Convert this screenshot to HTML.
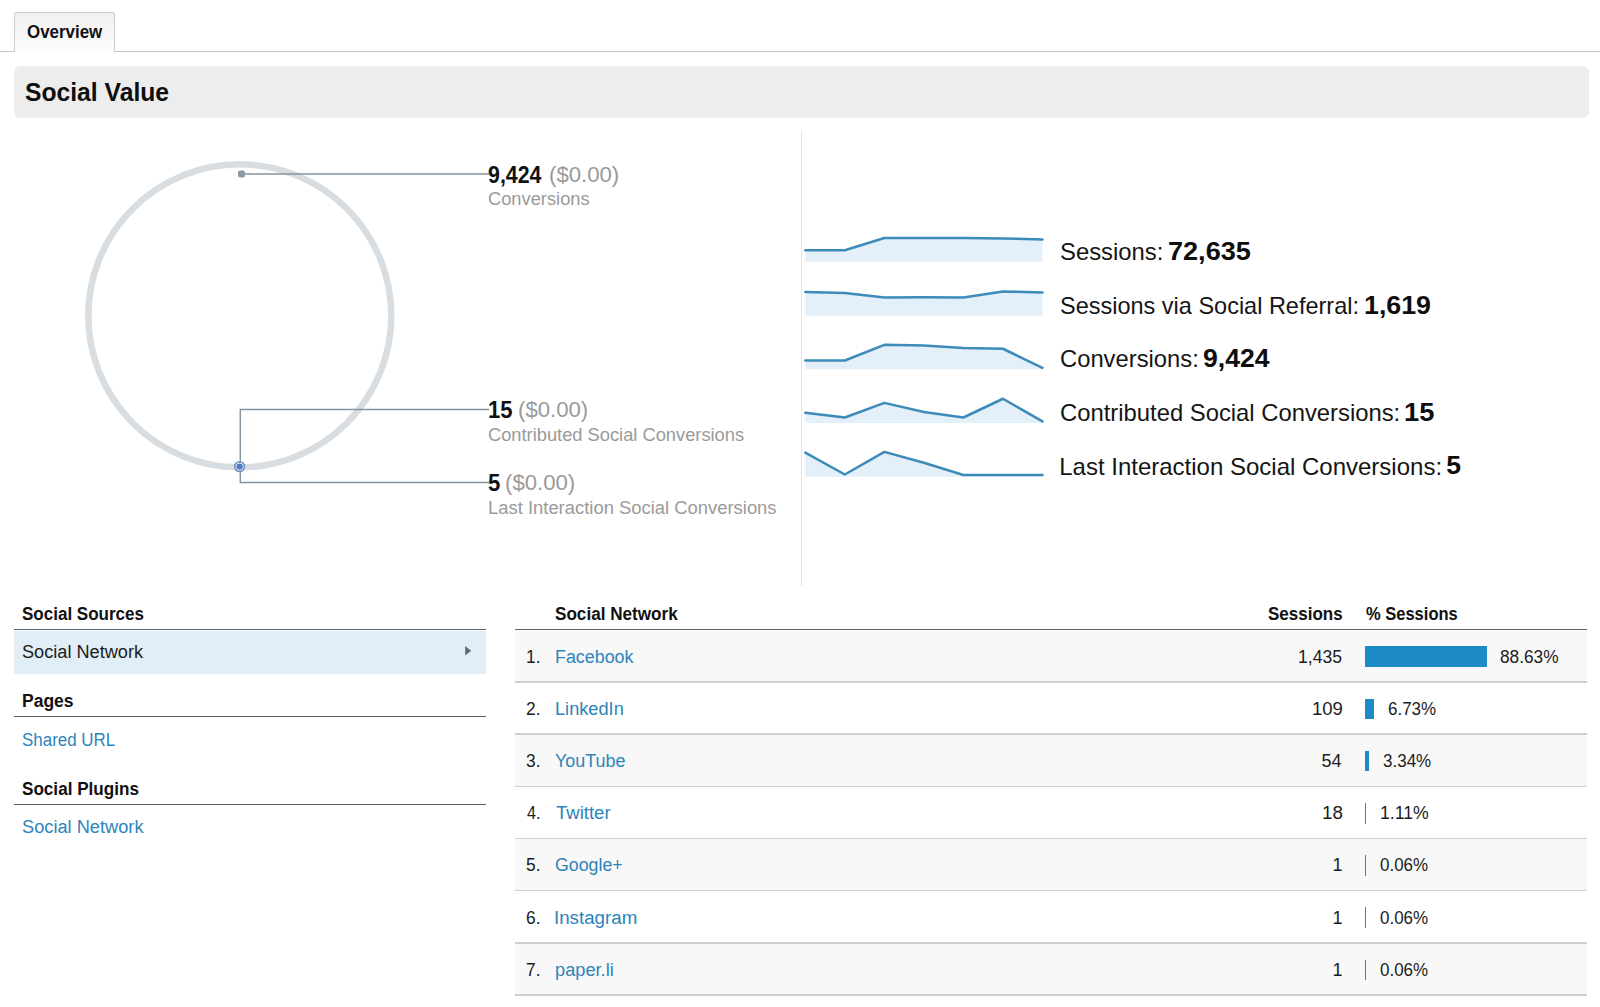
<!DOCTYPE html>
<html><head><meta charset="utf-8"><style>html,body{margin:0;padding:0;background:#fff;width:1600px;height:1007px;overflow:hidden;position:relative;font-family:"Liberation Sans",sans-serif}.t{position:absolute;white-space:nowrap}</style></head><body>
<div style="position:absolute;left:0;top:50.6px;width:1600px;height:1.2px;background:#c6c6c6"></div>
<div style="position:absolute;left:14.2px;top:11.6px;width:101.2px;height:40px;box-sizing:border-box;border:1.2px solid #cdcdcd;border-bottom:none;border-radius:3px 3px 0 0;background:linear-gradient(#f0f0f0,#fdfdfd)"></div>
<div style="position:absolute;left:14.3px;top:66.4px;width:1575px;height:51.9px;background:#ededed;border-radius:6px"></div>
<div style="position:absolute;left:801px;top:131px;width:1px;height:455px;background:#e4e4e4"></div>
<svg style="position:absolute;left:0;top:0" width="800" height="600">
<circle cx="239.8" cy="315.8" r="151.5" fill="none" stroke="#d8dde1" stroke-width="6.5"/>
<path d="M241.5 174 H489" stroke="#8494a0" stroke-width="1.5" fill="none"/>
<rect x="238" y="170.5" width="7" height="7" rx="2.2" fill="#8b9aa6"/>
<path d="M489 409.4 H240.3 V482.6 H489" stroke="#8494a0" stroke-width="1.5" fill="none"/>
<circle cx="239.6" cy="466.6" r="5.7" fill="#7893c0"/>
<circle cx="239.6" cy="466.6" r="3.9" fill="#fff"/>
<circle cx="239.6" cy="466.6" r="3.2" fill="#4b7cc3"/>
</svg>
<svg style="position:absolute;left:0;top:0" width="1600" height="600"><polygon points="805.30,261.9 805.30,250.20 844.83,250.20 884.36,238.00 923.89,238.00 963.42,238.00 1002.95,238.50 1042.48,239.40 1042.48,261.9" fill="#e3eff9"/><polyline points="805.30,250.20 844.83,250.20 884.36,238.00 923.89,238.00 963.42,238.00 1002.95,238.50 1042.48,239.40" fill="none" stroke="#3d8bb9" stroke-width="2.5" stroke-linejoin="round" stroke-linecap="round"/><polygon points="805.30,315.7 805.30,292.00 844.83,293.00 884.36,297.60 923.89,297.30 963.42,297.60 1002.95,291.40 1042.48,292.50 1042.48,315.7" fill="#e3eff9"/><polyline points="805.30,292.00 844.83,293.00 884.36,297.60 923.89,297.30 963.42,297.60 1002.95,291.40 1042.48,292.50" fill="none" stroke="#3d8bb9" stroke-width="2.5" stroke-linejoin="round" stroke-linecap="round"/><polygon points="805.30,369.3 805.30,360.50 844.83,360.50 884.36,344.80 923.89,345.60 963.42,348.00 1002.95,348.75 1042.48,367.80 1042.48,369.3" fill="#e3eff9"/><polyline points="805.30,360.50 844.83,360.50 884.36,344.80 923.89,345.60 963.42,348.00 1002.95,348.75 1042.48,367.80" fill="none" stroke="#3d8bb9" stroke-width="2.5" stroke-linejoin="round" stroke-linecap="round"/><polygon points="805.30,423.0 805.30,412.80 844.83,417.50 884.36,402.90 923.89,412.00 963.42,417.50 1002.95,398.75 1042.48,421.40 1042.48,423.0" fill="#e3eff9"/><polyline points="805.30,412.80 844.83,417.50 884.36,402.90 923.89,412.00 963.42,417.50 1002.95,398.75 1042.48,421.40" fill="none" stroke="#3d8bb9" stroke-width="2.5" stroke-linejoin="round" stroke-linecap="round"/><polygon points="805.30,476.7 805.30,452.70 844.83,474.50 884.36,451.90 923.89,462.80 963.42,475.00 1002.95,475.00 1042.48,475.00 1042.48,476.7" fill="#e3eff9"/><polyline points="805.30,452.70 844.83,474.50 884.36,451.90 923.89,462.80 963.42,475.00 1002.95,475.00 1042.48,475.00" fill="none" stroke="#3d8bb9" stroke-width="2.5" stroke-linejoin="round" stroke-linecap="round"/></svg>
<div style="position:absolute;left:14.2px;top:629px;width:472px;height:1.25px;background:#5b6065"></div>
<div style="position:absolute;left:14.2px;top:630.5px;width:472px;height:43px;background:#e1eef7"></div>
<svg style="position:absolute;left:460px;top:640px" width="16" height="20"><path d="M5.2 6 L11.1 10.8 L5.2 15.6 Z" fill="#646b70"/></svg>
<div style="position:absolute;left:14.2px;top:716px;width:472px;height:1.25px;background:#5b6065"></div>
<div style="position:absolute;left:14.2px;top:803.8px;width:472px;height:1.25px;background:#5b6065"></div>
<div style="position:absolute;left:514.8px;top:629px;width:1072.2px;height:1.25px;background:#5b6065"></div>
<div style="position:absolute;left:514.8px;top:630.50px;width:1072.2px;height:50.70px;background:#f8f8f8"></div>
<div style="position:absolute;left:514.8px;top:681.25px;width:1072.2px;height:1.4px;background:#cfcfcf"></div>
<div style="position:absolute;left:514.8px;top:682.70px;width:1072.2px;height:50.70px;background:#ffffff"></div>
<div style="position:absolute;left:514.8px;top:733.45px;width:1072.2px;height:1.4px;background:#cfcfcf"></div>
<div style="position:absolute;left:514.8px;top:734.90px;width:1072.2px;height:50.70px;background:#f8f8f8"></div>
<div style="position:absolute;left:514.8px;top:785.65px;width:1072.2px;height:1.4px;background:#cfcfcf"></div>
<div style="position:absolute;left:514.8px;top:787.10px;width:1072.2px;height:50.70px;background:#ffffff"></div>
<div style="position:absolute;left:514.8px;top:837.85px;width:1072.2px;height:1.4px;background:#cfcfcf"></div>
<div style="position:absolute;left:514.8px;top:839.30px;width:1072.2px;height:50.70px;background:#f8f8f8"></div>
<div style="position:absolute;left:514.8px;top:890.05px;width:1072.2px;height:1.4px;background:#cfcfcf"></div>
<div style="position:absolute;left:514.8px;top:891.50px;width:1072.2px;height:50.70px;background:#ffffff"></div>
<div style="position:absolute;left:514.8px;top:942.25px;width:1072.2px;height:1.4px;background:#cfcfcf"></div>
<div style="position:absolute;left:514.8px;top:943.70px;width:1072.2px;height:50.70px;background:#f8f8f8"></div>
<div style="position:absolute;left:514.8px;top:994.45px;width:1072.2px;height:1.4px;background:#cfcfcf"></div>
<div style="position:absolute;left:1364.6px;top:646.40px;width:122.04px;height:20.6px;background:#1e8bc6"></div>
<div style="position:absolute;left:1364.6px;top:698.60px;width:9.27px;height:20.6px;background:#1e8bc6"></div>
<div style="position:absolute;left:1364.6px;top:750.80px;width:4.60px;height:20.6px;background:#1e8bc6"></div>
<div style="position:absolute;left:1364.6px;top:803.00px;width:1.60px;height:20.6px;background:#1e8bc6"></div>
<div style="position:absolute;left:1364.6px;top:855.20px;width:1.60px;height:20.6px;background:#1e8bc6"></div>
<div style="position:absolute;left:1364.6px;top:907.40px;width:1.60px;height:20.6px;background:#1e8bc6"></div>
<div style="position:absolute;left:1364.6px;top:959.60px;width:1.60px;height:20.6px;background:#1e8bc6"></div>
<div class="t" style="font-size:17.5px;font-weight:bold;color:#111111;line-height:17.5px;left:26.63px;top:23.79px;transform:scaleX(0.9662);transform-origin:0 0;">Overview</div>
<div class="t" style="font-size:26px;font-weight:bold;color:#0e0e0e;line-height:26px;left:25.05px;top:79.09px;transform:scaleX(0.9493);transform-origin:0 0;">Social Value</div>
<div class="t" style="font-size:23px;font-weight:bold;color:#111111;line-height:23px;left:488.07px;top:163.53px;transform:scaleX(0.9298);transform-origin:0 0;">9,424</div>
<div class="t" style="font-size:22.5px;font-weight:normal;color:#9a9a9a;line-height:22.5px;left:549.01px;top:163.95px;transform:scaleX(0.9855);transform-origin:0 0;">($0.00)</div>
<div class="t" style="font-size:18.3px;font-weight:normal;color:#9a9a9a;line-height:18.3px;left:488.00px;top:190.01px;">Conversions</div>
<div class="t" style="font-size:23px;font-weight:bold;color:#111111;line-height:23px;left:488.04px;top:398.53px;transform:scaleX(0.9583);transform-origin:0 0;">15</div>
<div class="t" style="font-size:22.5px;font-weight:normal;color:#9a9a9a;line-height:22.5px;left:518.01px;top:398.95px;transform:scaleX(0.9855);transform-origin:0 0;">($0.00)</div>
<div class="t" style="font-size:18.3px;font-weight:normal;color:#9a9a9a;line-height:18.3px;left:488.00px;top:426.01px;">Contributed Social Conversions</div>
<div class="t" style="font-size:23px;font-weight:bold;color:#111111;line-height:23px;left:488.04px;top:471.53px;transform:scaleX(0.9636);transform-origin:0 0;">5</div>
<div class="t" style="font-size:22.5px;font-weight:normal;color:#9a9a9a;line-height:22.5px;left:505.41px;top:471.95px;transform:scaleX(0.9855);transform-origin:0 0;">($0.00)</div>
<div class="t" style="font-size:18.3px;font-weight:normal;color:#9a9a9a;line-height:18.3px;left:487.99px;top:499.01px;transform:scaleX(1.0070);transform-origin:0 0;">Last Interaction Social Conversions</div>
<div class="t" style="font-size:24px;font-weight:normal;color:#151515;line-height:24px;left:1060.21px;top:240.18px;transform:scaleX(0.9931);transform-origin:0 0;">Sessions:</div>
<div class="t" style="font-size:26.5px;font-weight:bold;color:#0e0e0e;line-height:26.5px;left:1167.78px;top:238.07px;transform:scaleX(1.0215);transform-origin:0 0;">72,635</div>
<div class="t" style="font-size:24px;font-weight:normal;color:#151515;line-height:24px;left:1060.22px;top:293.78px;transform:scaleX(0.9788);transform-origin:0 0;">Sessions via Social Referral:</div>
<div class="t" style="font-size:26.5px;font-weight:bold;color:#0e0e0e;line-height:26.5px;left:1363.78px;top:291.67px;transform:scaleX(1.0095);transform-origin:0 0;">1,619</div>
<div class="t" style="font-size:24px;font-weight:normal;color:#151515;line-height:24px;left:1060.21px;top:347.38px;transform:scaleX(0.9905);transform-origin:0 0;">Conversions:</div>
<div class="t" style="font-size:26.5px;font-weight:bold;color:#0e0e0e;line-height:26.5px;left:1203.20px;top:345.27px;transform:scaleX(1.0031);transform-origin:0 0;">9,424</div>
<div class="t" style="font-size:24px;font-weight:normal;color:#151515;line-height:24px;left:1060.21px;top:400.98px;transform:scaleX(0.9924);transform-origin:0 0;">Contributed Social Conversions:</div>
<div class="t" style="font-size:26.5px;font-weight:bold;color:#0e0e0e;line-height:26.5px;left:1404.44px;top:398.87px;transform:scaleX(1.0296);transform-origin:0 0;">15</div>
<div class="t" style="font-size:24px;font-weight:normal;color:#151515;line-height:24px;left:1059.20px;top:454.58px;">Last Interaction Social Conversions:</div>
<div class="t" style="font-size:26.5px;font-weight:bold;color:#0e0e0e;line-height:26.5px;left:1446.20px;top:452.47px;">5</div>
<div class="t" style="font-size:18px;font-weight:bold;color:#111111;line-height:18px;left:22.06px;top:604.76px;transform:scaleX(0.9449);transform-origin:0 0;">Social Sources</div>
<div class="t" style="font-size:18px;font-weight:normal;color:#1c1c1c;line-height:18px;left:21.99px;top:643.06px;transform:scaleX(1.0084);transform-origin:0 0;">Social Network</div>
<div class="t" style="font-size:18px;font-weight:bold;color:#111111;line-height:18px;left:22.03px;top:692.06px;transform:scaleX(0.9725);transform-origin:0 0;">Pages</div>
<div class="t" style="font-size:18px;font-weight:normal;color:#2d84ba;line-height:18px;left:22.16px;top:730.56px;transform:scaleX(0.9418);transform-origin:0 0;">Shared URL</div>
<div class="t" style="font-size:18px;font-weight:bold;color:#111111;line-height:18px;left:22.05px;top:779.56px;transform:scaleX(0.9504);transform-origin:0 0;">Social Plugins</div>
<div class="t" style="font-size:18px;font-weight:normal;color:#2d84ba;line-height:18px;left:21.99px;top:817.76px;transform:scaleX(1.0126);transform-origin:0 0;">Social Network</div>
<div class="t" style="font-size:18px;font-weight:bold;color:#111111;line-height:18px;left:555.35px;top:604.76px;transform:scaleX(0.9508);transform-origin:0 0;">Social Network</div>
<div class="t" style="font-size:18px;font-weight:bold;color:#111111;line-height:18px;left:1267.86px;top:604.76px;transform:scaleX(0.9442);transform-origin:0 0;">Sessions</div>
<div class="t" style="font-size:18px;font-weight:bold;color:#111111;line-height:18px;left:1365.50px;top:604.76px;transform:scaleX(0.9167);transform-origin:0 0;">% Sessions</div>
<div class="t" style="font-size:18px;font-weight:normal;color:#1c1c1c;line-height:18px;left:526.04px;top:647.56px;transform:scaleX(0.9615);transform-origin:0 0;">1.</div>
<div class="t" style="font-size:18px;font-weight:normal;color:#2d84ba;line-height:18px;left:555.31px;top:647.56px;transform:scaleX(0.9929);transform-origin:0 0;">Facebook</div>
<div class="t" style="font-size:18px;font-weight:normal;color:#1c1c1c;line-height:18px;left:1298.42px;top:647.56px;transform:scaleX(0.9767);transform-origin:0 0;">1,435</div>
<div class="t" style="font-size:18px;font-weight:normal;color:#1c1c1c;line-height:18px;left:1500.48px;top:647.56px;transform:scaleX(0.9593);transform-origin:0 0;">88.63%</div>
<div class="t" style="font-size:18px;font-weight:normal;color:#1c1c1c;line-height:18px;left:526.04px;top:699.76px;transform:scaleX(0.9615);transform-origin:0 0;">2.</div>
<div class="t" style="font-size:18px;font-weight:normal;color:#2d84ba;line-height:18px;left:555.29px;top:699.76px;transform:scaleX(1.0106);transform-origin:0 0;">LinkedIn</div>
<div class="t" style="font-size:18px;font-weight:normal;color:#1c1c1c;line-height:18px;left:1311.57px;top:699.76px;transform:scaleX(1.0286);transform-origin:0 0;">109</div>
<div class="t" style="font-size:18px;font-weight:normal;color:#1c1c1c;line-height:18px;left:1387.73px;top:699.76px;transform:scaleX(0.9417);transform-origin:0 0;">6.73%</div>
<div class="t" style="font-size:18px;font-weight:normal;color:#1c1c1c;line-height:18px;left:526.04px;top:751.96px;transform:scaleX(0.9615);transform-origin:0 0;">3.</div>
<div class="t" style="font-size:18px;font-weight:normal;color:#2d84ba;line-height:18px;left:555.30px;top:751.96px;transform:scaleX(0.9957);transform-origin:0 0;">YouTube</div>
<div class="t" style="font-size:18px;font-weight:normal;color:#1c1c1c;line-height:18px;left:1321.40px;top:751.96px;">54</div>
<div class="t" style="font-size:18px;font-weight:normal;color:#1c1c1c;line-height:18px;left:1383.05px;top:751.96px;transform:scaleX(0.9450);transform-origin:0 0;">3.34%</div>
<div class="t" style="font-size:18px;font-weight:normal;color:#1c1c1c;line-height:18px;left:527.00px;top:804.16px;transform:scaleX(0.8929);transform-origin:0 0;">4.</div>
<div class="t" style="font-size:18px;font-weight:normal;color:#2d84ba;line-height:18px;left:556.30px;top:804.16px;transform:scaleX(1.0302);transform-origin:0 0;">Twitter</div>
<div class="t" style="font-size:18px;font-weight:normal;color:#1c1c1c;line-height:18px;left:1321.56px;top:804.16px;transform:scaleX(1.0444);transform-origin:0 0;">18</div>
<div class="t" style="font-size:18px;font-weight:normal;color:#1c1c1c;line-height:18px;left:1380.02px;top:804.16px;transform:scaleX(0.9813);transform-origin:0 0;">1.11%</div>
<div class="t" style="font-size:18px;font-weight:normal;color:#1c1c1c;line-height:18px;left:526.04px;top:856.36px;transform:scaleX(0.9615);transform-origin:0 0;">5.</div>
<div class="t" style="font-size:18px;font-weight:normal;color:#2d84ba;line-height:18px;left:555.31px;top:856.36px;transform:scaleX(0.9866);transform-origin:0 0;">Google+</div>
<div class="t" style="font-size:18px;font-weight:normal;color:#1c1c1c;line-height:18px;left:1332.40px;top:856.36px;">1</div>
<div class="t" style="font-size:18px;font-weight:normal;color:#1c1c1c;line-height:18px;left:1380.06px;top:856.36px;transform:scaleX(0.9420);transform-origin:0 0;">0.06%</div>
<div class="t" style="font-size:18px;font-weight:normal;color:#1c1c1c;line-height:18px;left:526.04px;top:908.56px;transform:scaleX(0.9615);transform-origin:0 0;">6.</div>
<div class="t" style="font-size:18px;font-weight:normal;color:#2d84ba;line-height:18px;left:554.22px;top:908.56px;transform:scaleX(1.0403);transform-origin:0 0;">Instagram</div>
<div class="t" style="font-size:18px;font-weight:normal;color:#1c1c1c;line-height:18px;left:1332.40px;top:908.56px;">1</div>
<div class="t" style="font-size:18px;font-weight:normal;color:#1c1c1c;line-height:18px;left:1380.06px;top:908.56px;transform:scaleX(0.9420);transform-origin:0 0;">0.06%</div>
<div class="t" style="font-size:18px;font-weight:normal;color:#1c1c1c;line-height:18px;left:526.04px;top:960.76px;transform:scaleX(0.9615);transform-origin:0 0;">7.</div>
<div class="t" style="font-size:18px;font-weight:normal;color:#2d84ba;line-height:18px;left:555.29px;top:960.76px;transform:scaleX(1.0125);transform-origin:0 0;">paper.li</div>
<div class="t" style="font-size:18px;font-weight:normal;color:#1c1c1c;line-height:18px;left:1332.40px;top:960.76px;">1</div>
<div class="t" style="font-size:18px;font-weight:normal;color:#1c1c1c;line-height:18px;left:1380.06px;top:960.76px;transform:scaleX(0.9420);transform-origin:0 0;">0.06%</div>
</body></html>
